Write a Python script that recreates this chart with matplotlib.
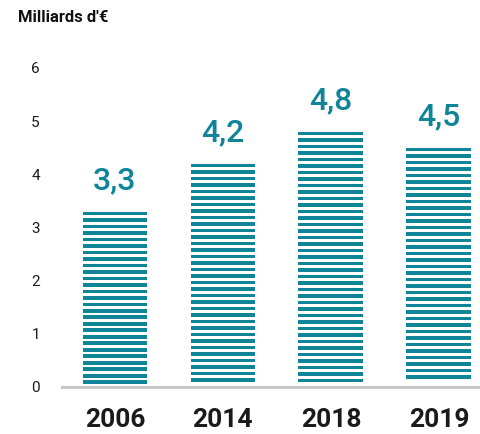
import numpy as np
import matplotlib
matplotlib.use("Agg")
import matplotlib.pyplot as plt

years = ["2006", "2014", "2018", "2019"]
values = [3.3, 4.2, 4.8, 4.5]
value_labels = ["3,3", "4,2", "4,8", "4,5"]
yticks = [0, 1, 2, 3, 4, 5, 6]

TEAL = "#0f8597"
STRIPE_STEP = 0.1222   # distance between stripes (data units)
STRIPE_H = 0.068       # stripe thickness

plt.rcParams["font.family"] = ["Roboto", "DejaVu Sans"]

fig = plt.figure(figsize=(4.81, 4.34), dpi=100)
ax = fig.add_axes([62 / 481, 47 / 434, 1 - 62 / 481, 345.6 / 434])

x = np.arange(len(years))
for xi, v, lab in zip(x, values, value_labels):
    # striped bar: thin slices stacked from the top of the value downward
    bottoms = np.arange(v - STRIPE_H, 0.05, -STRIPE_STEP)
    ax.bar(np.full(len(bottoms), xi), STRIPE_H, bottom=bottoms, width=0.6,
           color=TEAL, linewidth=0)
    ax.annotate(lab, xy=(xi, v), xytext=(0, 16), textcoords="offset points",
                ha="center", va="baseline", fontsize=23, fontweight="medium",
                color=TEAL)

ax.set_xlim(-0.49, 3.39)
ax.set_ylim(0, 6.5)
ax.set_xticks(x)
ax.set_xticklabels(years, fontsize=19, fontweight="bold", color="#1a1a1a")
ax.set_yticks(yticks)
ax.set_yticklabels([str(t) for t in yticks], fontsize=11, color="#1a1a1a")
ax.tick_params(axis="both", length=0)
ax.tick_params(axis="y", pad=16)
ax.tick_params(axis="x", pad=15)

for side in ["top", "right", "left"]:
    ax.spines[side].set_visible(False)
ax.spines["bottom"].set_color("#c8c8c8")
ax.spines["bottom"].set_linewidth(2.2)

fig.text(18 / 481, 1 - 17 / 434, "Milliards d'€", fontsize=12, fontweight="bold",
         ha="left", va="center", color="#111111")

fig.savefig("out.png", dpi=100)
